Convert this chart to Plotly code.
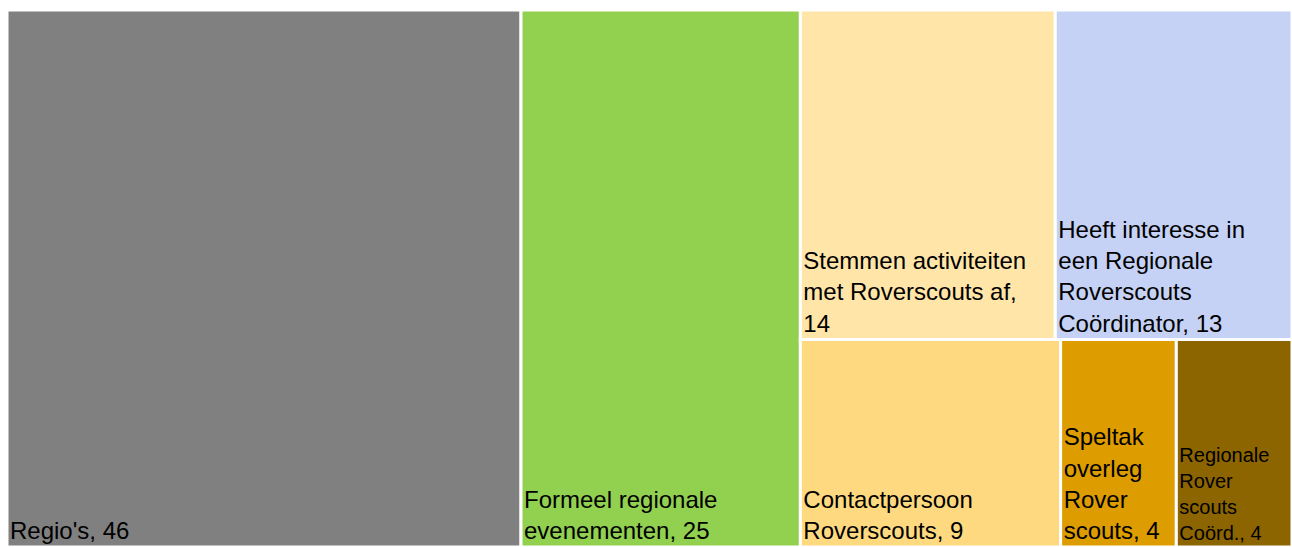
import plotly.graph_objects as go

labels = ["Regio's", "Formeel regionale evenementen", "Stemmen activiteiten met Roverscouts af",
          "Heeft interesse in een Regionale Roverscouts Coördinator", "Contactpersoon Roverscouts",
          "Speltak overleg Rover scouts", "Regionale Rover scouts Coörd."]
display = ["Regio's", "Formeel regionale<br>evenementen", "Stemmen activiteiten<br>met Roverscouts af,<br>",
           "Heeft interesse in<br>een Regionale<br>Roverscouts<br>Coördinator", "Contactpersoon<br>Roverscouts",
           "Speltak<br>overleg<br>Rover<br>scouts", "Regionale<br>Rover<br>scouts<br>Coörd."]
values = [46, 25, 14, 13, 9, 4, 4]
colors = ["#808080", "#92D050", "#FFE5A8", "#C5D2F5", "#FFD97F", "#DD9C00", "#8C6500"]
font_sizes = [24, 24, 24, 24, 24, 24, 20]

texts = []
for d, v in zip(display, values):
    if d.endswith("<br>"):
        texts.append(f"{d}{v}")
    else:
        texts.append(f"{d}, {v}")

fig = go.Figure(go.Treemap(
    ids=["root"] + labels,
    labels=[" "] + labels,
    parents=[""] + ["root"] * len(labels),
    values=[sum(values)] + values,
    branchvalues="total",
    customdata=[" "] + texts,
    texttemplate="%{customdata}",
    textposition="bottom left",
    textfont=dict(family="Liberation Sans, Arial, sans-serif", color="black",
                  size=[24] + font_sizes),
    marker=dict(colors=["white"] + colors, line=dict(color="white", width=3),
                pad=dict(t=0, l=0, r=0, b=0)),
    tiling=dict(packing="squarify", pad=0),
    pathbar=dict(visible=False),
    sort=True,
    hovertemplate="%{label}: %{value}<extra></extra>",
))
fig.update_layout(
    width=1292, height=547,
    margin=dict(l=7, r=0, t=10, b=0),
    paper_bgcolor="white",
)
fig.write_html("out.html", config={"displayModeBar": False},
               post_script="document.body.style.margin='0';document.body.style.overflow='hidden';")
